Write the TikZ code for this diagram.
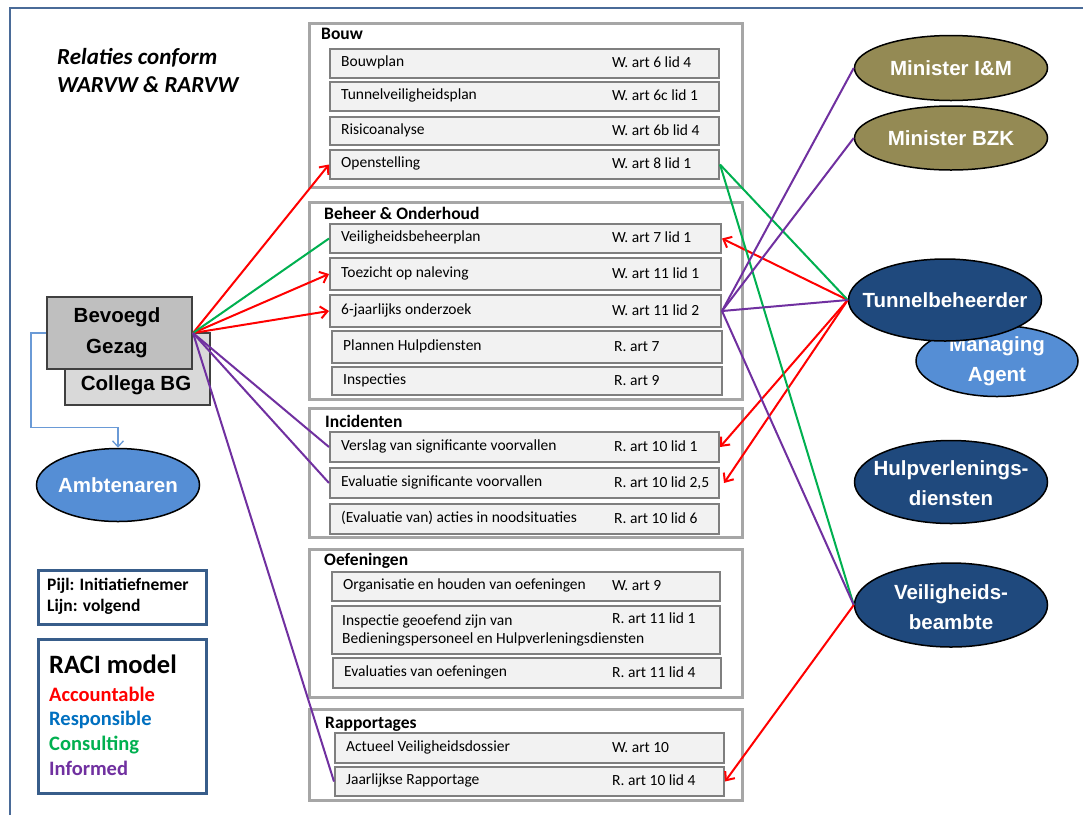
\documentclass[tikz,border=0pt]{standalone}
\usepackage{fontspec}
\setmainfont{Carlito}
\newfontfamily\arialf{Liberation Sans}
\usetikzlibrary{shapes.geometric,arrows.meta,calc}
\definecolor{cred}{HTML}{FF0000}
\definecolor{cgreen}{HTML}{00B050}
\definecolor{cpurple}{HTML}{7030A0}
\definecolor{cresp}{HTML}{0070C0}
\definecolor{colive}{HTML}{948A54}
\definecolor{cdark}{HTML}{1F497D}
\definecolor{cmid}{HTML}{558ED5}
\definecolor{cframe}{HTML}{4A6B98}
\definecolor{clegend}{HTML}{385D8A}
\definecolor{cgroup}{HTML}{A6A6A6}
\definecolor{citem}{HTML}{7F7F7F}
\definecolor{citemfill}{HTML}{F2F2F2}
\definecolor{cbg}{HTML}{BFBFBF}
\definecolor{ccol}{HTML}{D9D9D9}
\definecolor{cbluecon}{HTML}{6A9AD6}
\newcommand{\mkitem}[8]{%
  \node[itembox, minimum width={(#4-#2)*1pt}, minimum height={(#5-#3)*1pt}, anchor=north west] (#1) at (#2,#3) {};
  \node[itemtxt] (#1-t) at ({#2+12},{(#3+#5)/2-1}) {#6};
  \node[itemtxt] (#1-r) at (#8,{(#3+#5)/2}) {#7};
}
\begin{document}
\begin{tikzpicture}[x=1pt,y=-1pt,
  groupbox/.style={draw=cgroup, line width=3pt, fill=white},
  itembox/.style={draw=citem, line width=2pt, fill=citemfill, inner sep=0pt},
  itemtxt/.style={font=\fontsize{15.5}{18}\selectfont, inner sep=0pt, anchor=west, text height=10pt, text depth=0pt},
  grouptitle/.style={font=\fontsize{17.5}{21}\selectfont\bfseries, anchor=west, inner sep=0pt, text height=11.5pt, text depth=0pt},
  ellbox/.style={ellipse, draw=black, line width=1.5pt, inner sep=0pt},
  elltxt/.style={text=white, font=\arialf\bfseries\fontsize{20.5}{30}\selectfont, align=center, inner sep=0pt},
  bgbox/.style={draw=black!75, line width=2pt, inner sep=0pt},
  bgtxt/.style={font=\arialf\bfseries\fontsize{20.5}{31}\selectfont, align=center, inner sep=0pt},
  legbox/.style={draw=clegend, line width=3pt, fill=white, inner sep=0pt},
  acc/.style={draw=cred, line width=2pt, -{Straight Barb[length=7pt,width=12pt,line width=2pt]}},
  cons/.style={draw=cgreen, line width=2pt},
  inf/.style={draw=cpurple, line width=2pt},
  bluecon/.style={draw=cbluecon, line width=1.3pt, -{Straight Barb[length=6pt,width=11pt,line width=1.3pt]}}
]
\useasboundingbox (0,0) rectangle (1083,815);
\fill[white] (0,0) rectangle (1083,815);
% outer frame
\draw[cframe, line width=2.5pt] (10,815) -- (10,8) -- (1083,8);

% title
\node[font=\fontsize{23}{28}\selectfont\bfseries\itshape, align=left, anchor=west, inner sep=0pt] (title) at (57,71) {Relaties conform\\WARVW \& RARVW};

% group boxes
\path[groupbox] (309,23) rectangle (742,187);
\path[groupbox] (309,202) rectangle (742,399);
\path[groupbox] (309,408) rectangle (742,537);
\path[groupbox] (309,549) rectangle (742,697);
\path[groupbox] (309,709) rectangle (742,800);

\node[grouptitle] (g1) at (321,34) {Bouw};
\node[grouptitle] (g2) at (324,214) {Beheer \& Onderhoud};
\node[grouptitle] (g3) at (325,422) {Incidenten};
\node[grouptitle] (g4) at (324,560) {Oefeningen};
\node[grouptitle] (g5) at (325,723) {Rapportages};

% items
\mkitem{bouwplan}{329}{48}{718}{77}{Bouwplan}{W. art 6 lid 4}{612}
\mkitem{tvp}{329}{81}{718}{110}{Tunnelveiligheidsplan}{W. art 6c lid 1}{612}
\mkitem{risico}{329}{116}{718}{144}{Risicoanalyse}{W. art 6b lid 4}{612}
\mkitem{open}{329}{149}{718}{178}{Openstelling}{W. art 8 lid 1}{612}

\mkitem{vbp}{329}{223}{720}{252}{Veiligheidsbeheerplan}{W. art 7 lid 1}{612}
\mkitem{toez}{329}{257}{720}{289}{Toezicht op naleving}{W. art 11 lid 1}{612}
\mkitem{zes}{329}{294}{720}{326}{6-jaarlijks onderzoek}{W. art 11 lid 2}{612}
\mkitem{plan}{331}{330}{721}{362}{Plannen Hulpdiensten}{R. art 7}{614}
\mkitem{insp}{331}{366}{721}{394}{Inspecties}{R. art 9}{614}

\mkitem{vsv}{329}{431}{718}{461}{Verslag van significante voorvallen}{R. art 10 lid 1}{614}
\mkitem{esv}{329}{467}{718}{497}{Evaluatie significante voorvallen}{R. art 10 lid 2,5}{614}
\mkitem{nood}{329}{503}{718}{533}{(Evaluatie van) acties in noodsituaties}{R. art 10 lid 6}{614}

\mkitem{org}{331}{571}{719}{600}{Organisatie en houden van oefeningen}{W. art 9}{612}
\node[itembox, minimum width=388pt, minimum height=48pt, anchor=north west] (ige) at (331,605) {};
\node[inner sep=0pt, anchor=west, align=left, font=\fontsize{15.5}{18}\selectfont] (ige-t) at (342,630) {Inspectie geoefend zijn van\\Bedieningspersoneel en Hulpverleningsdiensten};
\node[itemtxt] (ige-r) at (612,618) {R. art 11 lid 1};
\mkitem{evo}{332}{657}{720}{687}{Evaluaties van oefeningen}{R. art 11 lid 4}{612}

\mkitem{avd}{334}{732}{723}{762}{Actueel Veiligheidsdossier}{W. art 10}{612}
\mkitem{jr}{334}{766}{723}{795}{Jaarlijkse Rapportage}{R. art 10 lid 4}{612}

% left side boxes
\node[bgbox, fill=ccol, minimum width=145pt, minimum height=72pt, anchor=north west] (collega) at (64,332) {};
\node[bgtxt] (collega-t) at (136,385) {Collega BG};
\node[bgbox, fill=cbg, minimum width=145pt, minimum height=72pt, anchor=north west] (bg) at (46,296) {};
\node[bgtxt] (bg-t) at (117,333) {Bevoegd\\Gezag};

% right side ellipses (shapes)
\node[ellbox, fill=colive, minimum width=193pt, minimum height=65pt] (mim) at (951,68) {};
\node[ellbox, fill=colive, minimum width=193pt, minimum height=64pt] (mbzk) at (951,138) {};
\node[ellbox, fill=cmid, minimum width=162pt, minimum height=71pt] (ma) at (997,361) {};
\node[elltxt] (ma-t) at (997,361) {Managing\\Agent};
\node[ellbox, fill=cdark, minimum width=193pt, minimum height=82pt] (tb) at (945,300) {};
\node[ellbox, fill=cdark, minimum width=193pt, minimum height=83pt] (hvd) at (951,482) {};
\node[ellbox, fill=cdark, minimum width=193pt, minimum height=84pt] (vb) at (951,605) {};
\node[ellbox, fill=cmid, minimum width=163pt, minimum height=73pt] (amb) at (118,485) {};

% connectors
\draw[acc] (bg.east) -- (open.west);
\draw[acc] (bg.east) -- (toez.west);
\draw[acc] (bg.east) -- (zes.west);
\draw[cons] (bg.east) -- (vbp.west);
\draw[inf] (bg.east) -- (vsv.west);
\draw[inf] (bg.east) -- (esv.west);
\draw[inf] (bg.east) -- (jr.west);
\draw[acc] (tb.west) -- (vbp.east);
\draw[acc] (tb.west) -- (vsv.east);
\draw[acc] (tb.west) -- ([xshift=4pt]esv.east);
\draw[cons] (open.east) -- (tb.west);
\draw[cons] (open.east) -- (vb.west);
\draw[inf] (zes.east) -- (tb.west);
\draw[inf] (zes.east) -- (mim.west);
\draw[inf] (zes.east) -- (mbzk.west);
\draw[inf] (zes.east) -- (vb.west);
\draw[acc] (vb.west) -- (jr.east);
\draw[bluecon] (bg.west) -- ++(-15,0) |- ($(amb.north)+(0,-20)$) -- (amb.north);

% ellipse texts
\node[elltxt] (mim-t) at (mim) {Minister I\&M};
\node[elltxt] (mbzk-t) at (mbzk) {Minister BZK};
\node[elltxt] (tb-t) at (tb) {Tunnelbeheerder};
\node[elltxt] (hvd-t) at (951,483) {Hulpverlenings-\\diensten};
\node[elltxt] (vb-t) at (951,607) {Veiligheids-\\beambte};
\node[elltxt] (amb-t) at (amb) {Ambtenaren};

% legend
\node[legbox, minimum width=168pt, minimum height=54pt, anchor=north west] (pijl) at (37,569) {};
\node[font=\fontsize{17.5}{21}\selectfont\bfseries, align=left, anchor=west, inner sep=0pt] (pijl-t) at (47,596) {Pijl: Initiatiefnemer\\Lijn: volgend};
\node[legbox, minimum width=168pt, minimum height=154pt, anchor=north west] (raci) at (37,638) {};
\node[font=\fontsize{26.5}{30}\selectfont\bfseries, anchor=west, inner sep=0pt, text height=17pt, text depth=0pt] (raci-t) at (49,665) {RACI model};
\node[font=\fontsize{20.5}{24}\selectfont\bfseries, text=cred, anchor=west, inner sep=0pt, text height=13pt, text depth=0pt] (l-a) at (49,695) {Accountable};
\node[font=\fontsize{20.5}{24}\selectfont\bfseries, text=cresp, anchor=west, inner sep=0pt, text height=13pt, text depth=0pt] (l-r) at (49,719) {Responsible};
\node[font=\fontsize{20.5}{24}\selectfont\bfseries, text=cgreen, anchor=west, inner sep=0pt, text height=13pt, text depth=0pt] (l-c) at (49,744) {Consulting};
\node[font=\fontsize{20.5}{24}\selectfont\bfseries, text=cpurple, anchor=west, inner sep=0pt, text height=13pt, text depth=0pt] (l-i) at (49,769) {Informed};
\end{tikzpicture}
\end{document}
